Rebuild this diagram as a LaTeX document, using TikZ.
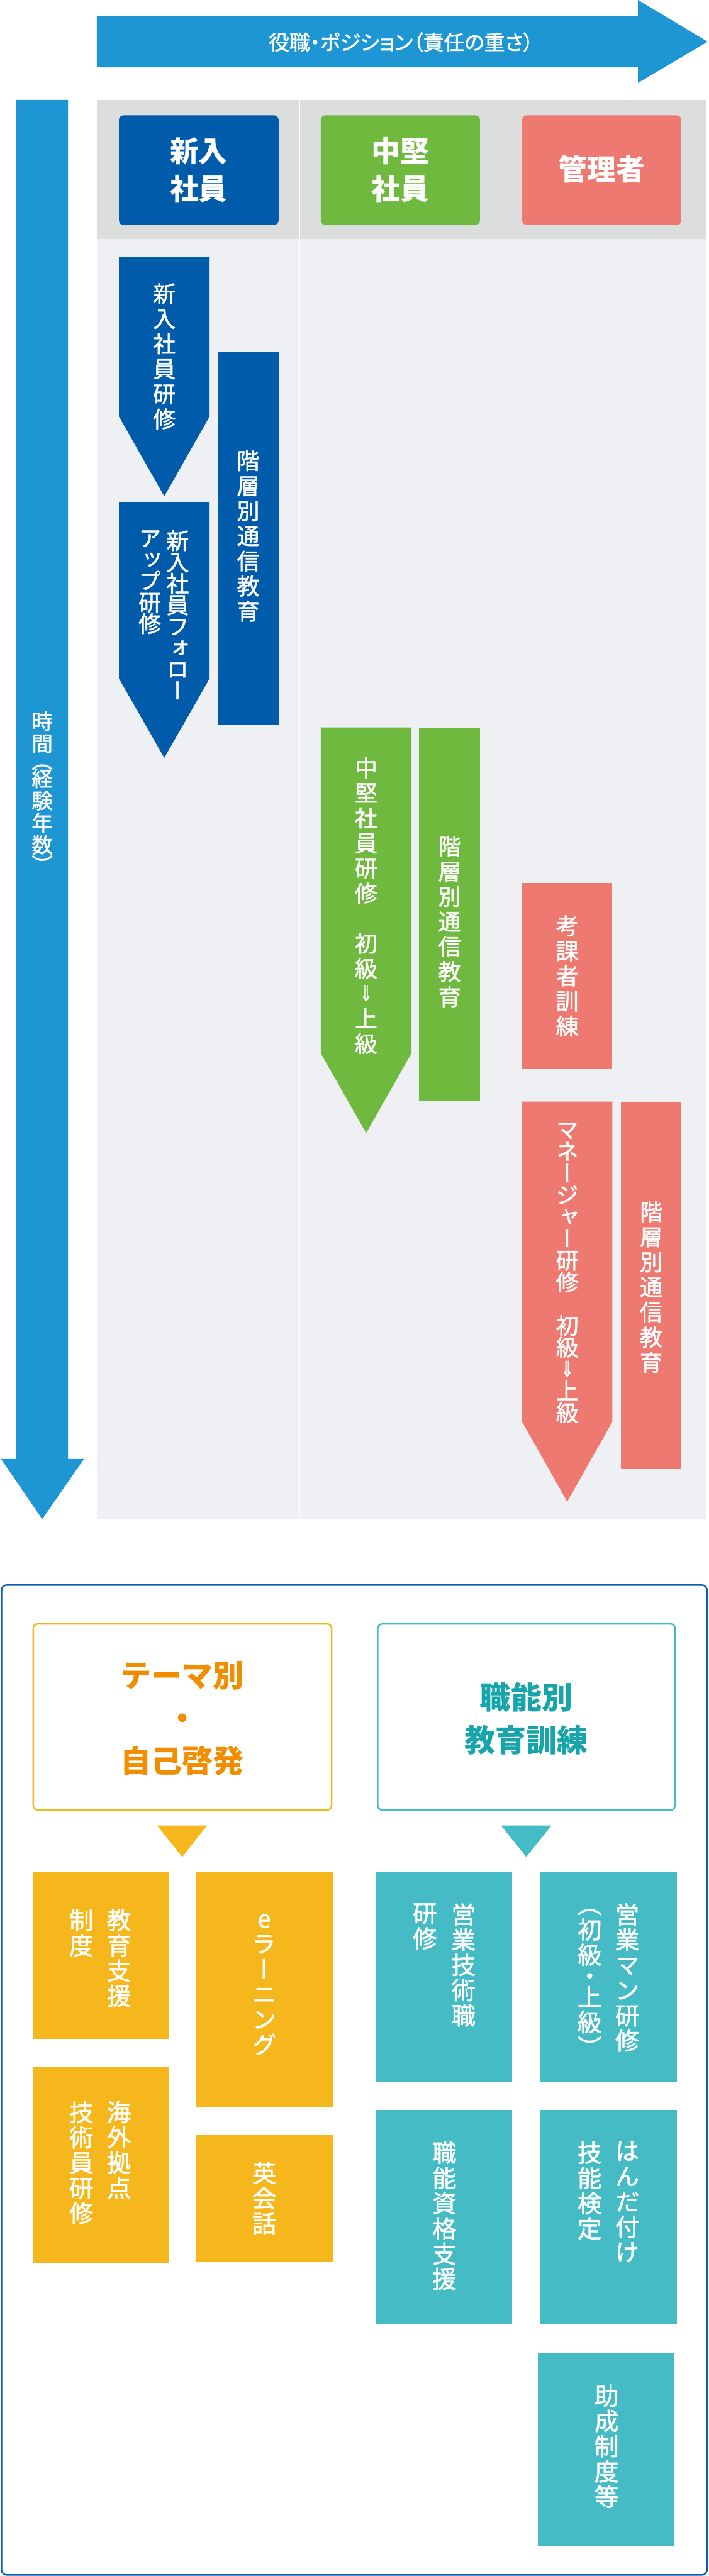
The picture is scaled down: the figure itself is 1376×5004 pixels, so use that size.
\documentclass[tikz,border=0pt]{standalone}
\usepackage{fontspec}
\usepackage{graphicx}
\newfontfamily\jp{Noto Sans CJK JP}
\newfontfamily\jpv[RawFeature=+vert,FakeBold=1.5]{Noto Sans CJK JP}
\newfontfamily\jph[RawFeature=+palt,FakeBold=1.5]{Noto Sans CJK JP}
\newfontfamily\dv[FakeBold=1.5]{DejaVu Sans}
\definecolor{arrowblue}{HTML}{1E96D4}
\definecolor{darkblue}{HTML}{005BAB}
\definecolor{midgreen}{HTML}{70B93F}
\definecolor{salmon}{HTML}{EE7970}
\definecolor{headgray}{HTML}{DCDDDD}
\definecolor{bodygray}{HTML}{EFF0F4}
\definecolor{orangebox}{HTML}{F5B71B}
\definecolor{orangetext}{HTML}{F08D00}
\definecolor{tealbox}{HTML}{45BBC5}
\definecolor{tealtext}{HTML}{17A5AB}
\definecolor{outerblue}{HTML}{0A5CAD}
\newcommand{\dar}{{\dv\fontsize{42}{42}\selectfont\raisebox{2pt}{\scalebox{0.72}[1]{⇓}}}}
\begin{document}
\begin{tikzpicture}[x=1pt,y=-1pt,
  vlab/.style={inner sep=0pt, text=white, align=center, anchor=north},
  vA/.style={vlab, font={\jpv\fontsize{44}{48.7}\selectfont}},
  vF/.style={vlab, font={\jpv\fontsize{44}{41.6}\selectfont}},
  vM/.style={vlab, font={\jpv\fontsize{44}{42.3}\selectfont}},
  vB/.style={vlab, font={\jpv\fontsize{47}{49}\selectfont}},
  headtxt/.style={inner sep=0pt, text=white, align=center, font={\jp\bfseries\fontsize{56}{73}\selectfont}},
  subhead/.style={inner sep=0pt, align=center, font={\jp\bfseries\fontsize{60}{83}\selectfont}},
]
\useasboundingbox (0,0) rectangle (1376,5004);
% top arrow
\fill[arrowblue] (188,31) -- (1239,31) -- (1239,0) -- (1374,81) -- (1239,161) -- (1239,131) -- (188,131) -- cycle;
\node[inner sep=0pt, text=white, font={\jph\fontsize{40}{48}\selectfont}] (rank) at (779,82) {役職・ポジション（責任の重さ）};
% left arrow
\fill[arrowblue] (32,194) -- (132,194) -- (132,2834) -- (163,2834) -- (82,2951) -- (2,2834) -- (32,2834) -- cycle;
\node[vlab, font={\jpv\fontsize{41}{43}\selectfont}] (time) at (82,1382) {時\\間\\[-10pt]（\\[-8pt]経\\験\\年\\数\\[-4pt]）};
% background
\fill[bodygray] (188,464) rectangle (1371,2951);
\fill[headgray] (188,194) rectangle (1371,464);
\draw[white, line width=2pt] (582,194) -- (582,2951) (973,194) -- (973,2951);
% headers
\fill[darkblue, rounded corners=9pt] (231,224) rectangle (541,437);
\fill[midgreen, rounded corners=9pt] (623,224) rectangle (932,437);
\fill[salmon, rounded corners=9pt] (1014,224) rectangle (1323,437);
\node[headtxt] (h1) at (386,330) {新入\\社員};
\node[headtxt] (h2) at (777.5,330) {中堅\\社員};
\node[headtxt] (h3) at (1168.5,329) {管理者};
% new employees
\fill[darkblue] (231,499) -- (407,499) -- (407,809) -- (319,964) -- (231,809) -- cycle;
\node[vA] (t1) at (319,550) {新\\入\\社\\員\\研\\修};
\fill[darkblue] (423,684) rectangle (541,1409);
\node[vA] (t2) at (482,875) {階\\層\\別\\通\\信\\教\\育};
\fill[darkblue] (231,976) -- (407,976) -- (407,1318) -- (319,1472) -- (231,1318) -- cycle;
\node[vF] (t3a) at (345,1030) {新\\入\\社\\員\\フ\\ォ\\ロ\\ー};
\node[vF] (t3b) at (291,1030) {ア\\ッ\\プ\\研\\修};
% mid-level
\fill[midgreen] (623,1413) -- (799,1413) -- (799,2046) -- (711,2201) -- (623,2046) -- cycle;
\node[vA] (t4) at (711,1471) {中\\堅\\社\\員\\研\\修\\[48.7pt]初\\級\\\dar\\上\\級};
\fill[midgreen] (814,1413) rectangle (932,2138);
\node[vA] (t5) at (873,1624) {階\\層\\別\\通\\信\\教\\育};
% managers
\fill[salmon] (1014,1715) rectangle (1189,2077);
\node[vA] (t6) at (1101.5,1778) {考\\課\\者\\訓\\練};
\fill[salmon] (1014,2140) -- (1189,2140) -- (1189,2762) -- (1101.5,2917) -- (1014,2762) -- cycle;
\node[vM] (t7) at (1101.5,2181) {マ\\ネ\\ー\\ジ\\ャ\\ー\\研\\修\\[42.3pt]初\\級\\\dar\\上\\級};
\fill[salmon] (1206,2140) rectangle (1323,2854);
\node[vA] (t8) at (1264.5,2334) {階\\層\\別\\通\\信\\教\\育};
% lower section
\draw[outerblue, line width=3pt, rounded corners=10pt] (3,3079) rectangle (1373,5002);
\draw[orangebox, line width=3pt, rounded corners=9pt] (64.5,3154.5) rectangle (644,3516);
\draw[tealbox, line width=3pt, rounded corners=9pt] (733.5,3154.5) rectangle (1311,3516);
\node[subhead, text=orangetext] (theme) at (354,3338) {テーマ別\\・\\自己啓発};
\node[subhead, text=tealtext] (skill) at (1022,3338) {職能別\\教育訓練};
\fill[orangebox] (305,3546) -- (402,3546) -- (354,3607) -- cycle;
\fill[tealbox] (973,3546) -- (1071,3546) -- (1022,3607) -- cycle;
% orange boxes
\fill[orangebox] (63,3636) rectangle (327,3961);
\node[vB] (o1a) at (231,3708) {教\\育\\支\\援};
\node[vB] (o1b) at (158,3708) {制\\度};
\fill[orangebox] (63,4014) rectangle (327,4397);
\node[vB] (o2a) at (231,4081) {海\\外\\拠\\点};
\node[vB] (o2b) at (158,4081) {技\\術\\員\\研\\修};
\fill[orangebox] (381,3636) rectangle (646,4093);
\node[vB] (o3) at (513,3718) {e\\ラ\\ー\\ニ\\ン\\グ};
\fill[orangebox] (381,4148) rectangle (646,4394);
\node[vB] (o4) at (513,4199) {英\\会\\話};
% teal boxes
\fill[tealbox] (730,3636) rectangle (995,4044);
\node[vB] (s1a) at (900,3697) {営\\業\\技\\術\\職};
\node[vB] (s1b) at (825,3697) {研\\修};
\fill[tealbox] (1049,3636) rectangle (1314,4044);
\node[vB] (s2a) at (1218,3697) {営\\業\\マ\\ン\\研\\修};
\node[vB] (s2b) at (1145,3708) {（\\初\\級\\[-8pt]・\\[-8pt]上\\級\\）};
\fill[tealbox] (730,4099) rectangle (995,4515);
\node[vB] (s3) at (863,4160) {職\\能\\資\\格\\支\\援};
\fill[tealbox] (1049,4099) rectangle (1314,4515);
\node[vB] (s4a) at (1218,4160) {は\\ん\\だ\\付\\け};
\node[vB] (s4b) at (1145,4160) {技\\能\\検\\定};
\fill[tealbox] (1044,4570) rectangle (1309,4945);
\node[vB] (s5) at (1178,4632) {助\\成\\制\\度\\等};
\end{tikzpicture}
\end{document}
